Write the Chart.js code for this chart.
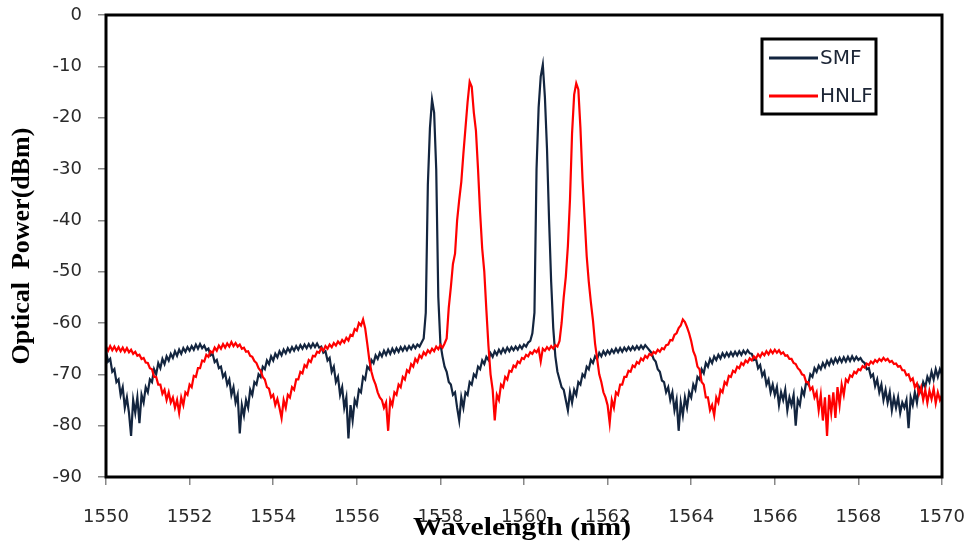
<!DOCTYPE html>
<html>
<head>
<meta charset="utf-8">
<script src="https://cdn.jsdelivr.net/npm/chart.js@4.4.1/dist/chart.umd.min.js"></script>
<style>
    body { margin: 0; background: #fff; }
    #spectrum { display: block; }
</style>
</head>
<body>
<canvas id="spectrum" width="969" height="543"></canvas>
<script>
// wavelength grid: 1550 to 1570 nm, 0.05 nm step (one row = 1 nm)
const wlStart = 1550;
const wlStep = 0.05;

// SMF output spectrum (dBm)
const smf = [
    -65.5, -67.5, -67.0, -69.5, -69.0, -71.5, -71.0, -74.0, -72.5, -76.5, -74.5, -77.5, -82.0, -75.0, -77.5, -74.5, -79.5, -74.0, -75.5, -72.5,
    -73.5, -71.0, -71.5, -69.0, -70.0, -67.8, -68.8, -67.0, -68.0, -66.5, -67.3, -66.0, -66.8, -65.5, -66.4, -65.2, -66.0, -64.9, -65.6, -64.7,
    -65.4, -64.5, -65.2, -64.2, -65.0, -64.1, -64.9, -64.4, -65.3, -65.0, -66.3, -66.0, -67.6, -67.2, -68.8, -68.5, -70.5, -69.8, -72.0, -71.0,
    -74.0, -72.5, -75.5, -74.0, -81.5, -76.0, -78.0, -75.0, -76.5, -73.0, -74.0, -71.5, -72.0, -70.0, -70.5, -68.5, -69.0, -67.3, -68.0, -66.5,
    -67.3, -66.0, -66.7, -65.5, -66.3, -65.2, -65.9, -64.9, -65.6, -64.7, -65.4, -64.5, -65.2, -64.3, -65.0, -64.2, -64.9, -64.1, -64.8, -64.0,
    -64.7, -64.0, -64.8, -64.6, -65.8, -65.5, -67.3, -66.8, -69.5, -68.5, -71.5, -70.5, -74.0, -72.5, -76.5, -74.5, -82.5, -76.0, -79.0, -75.0,
    -76.0, -73.0, -73.5, -70.5, -71.0, -68.5, -69.0, -67.2, -67.8, -66.3, -67.0, -65.8, -66.5, -65.4, -66.2, -65.2, -66.0, -65.0, -65.8, -64.9,
    -65.6, -64.7, -65.4, -64.6, -65.3, -64.5, -65.1, -64.3, -64.9, -64.2, -64.6, -63.8, -63.0, -58.0, -33.0, -22.0, -16.5, -19.0, -30.0, -55.0,
    -64.0, -66.5, -68.5, -69.5, -71.5, -72.0, -74.0, -73.5, -76.5, -79.0, -74.5, -76.5, -73.5, -74.0, -71.5, -72.0, -70.0, -70.5, -68.5, -69.0,
    -67.3, -68.0, -66.6, -67.2, -65.9, -66.6, -65.5, -66.2, -65.2, -65.9, -65.0, -65.7, -64.8, -65.5, -64.7, -65.3, -64.6, -65.2, -64.4, -65.0,
    -64.2, -64.6, -63.8, -63.5, -62.0, -58.0, -30.0, -18.0, -12.0, -9.7, -16.0, -26.0, -40.0, -52.0, -61.0, -66.5, -69.5, -71.0, -72.5, -73.0,
    -75.0, -77.0, -73.5, -75.5, -73.0, -74.0, -71.5, -72.0, -70.0, -70.5, -68.5, -69.0, -67.2, -67.8, -66.5, -67.0, -65.8, -66.5, -65.5, -66.2,
    -65.4, -66.0, -65.2, -65.8, -65.0, -65.7, -64.9, -65.6, -64.8, -65.4, -64.7, -65.3, -64.6, -65.2, -64.5, -65.1, -64.4, -65.0, -64.3, -64.8,
    -65.3, -65.8, -67.0, -67.5, -69.0, -69.5, -71.2, -71.5, -73.5, -72.5, -75.0, -73.5, -77.0, -75.0, -81.0, -75.5, -78.0, -74.5, -76.5, -73.5,
    -74.5, -72.0, -73.0, -70.5, -71.0, -69.0, -69.8, -67.8, -68.5, -67.0, -67.8, -66.5, -67.2, -66.2, -66.9, -65.9, -66.6, -65.8, -66.5, -65.7,
    -66.4, -65.6, -66.3, -65.5, -66.2, -65.4, -66.0, -65.3, -65.9, -66.0, -67.2, -67.0, -68.8, -68.2, -70.3, -69.5, -72.0, -71.0, -73.5, -72.0,
    -74.0, -72.5, -76.0, -73.5, -75.0, -73.0, -77.0, -74.5, -76.0, -74.0, -80.0, -75.0, -76.0, -73.0, -74.0, -71.5, -72.0, -70.0, -70.5, -68.8,
    -69.5, -68.3, -69.0, -67.8, -68.6, -67.4, -68.2, -67.1, -67.9, -66.9, -67.7, -66.8, -67.6, -66.7, -67.5, -66.6, -67.4, -66.5, -67.3, -66.6,
    -67.2, -66.8, -67.5, -67.8, -69.0, -68.8, -70.5, -70.0, -72.3, -71.0, -73.5, -72.0, -75.0, -73.0, -75.5, -73.5, -77.0, -74.5, -76.5, -74.5,
    -77.5, -75.5, -76.5, -75.0, -80.5, -74.5, -76.0, -73.5, -75.5, -72.5, -73.5, -71.5, -72.5, -70.5, -71.5, -69.5, -71.0, -69.0, -70.5, -69.0,
    -70.0
];

// HNLF output spectrum (dBm)
const hnlf = [
    -64.6, -65.4, -64.5, -65.3, -64.6, -65.4, -64.7, -65.5, -64.8, -65.6, -64.9, -65.7, -65.2, -66.0, -65.6, -66.4, -66.2, -67.0, -66.8, -67.7,
    -67.8, -68.8, -69.0, -70.5, -70.5, -72.0, -72.0, -73.8, -73.0, -75.0, -73.5, -75.5, -74.5, -76.5, -75.0, -77.5, -74.5, -76.0, -73.5, -74.0,
    -72.0, -72.5, -70.3, -70.5, -68.8, -68.8, -67.3, -67.5, -66.2, -66.6, -65.5, -65.8, -64.8, -65.4, -64.4, -65.0, -64.1, -64.8, -64.0, -64.6,
    -63.7, -64.5, -63.9, -64.6, -64.2, -65.0, -64.8, -65.6, -65.5, -66.4, -66.6, -67.4, -67.8, -68.8, -69.3, -70.5, -71.0, -72.5, -72.8, -74.5,
    -74.0, -76.0, -74.8, -76.5, -78.5, -75.0, -76.5, -74.0, -74.5, -72.5, -73.0, -71.0, -71.0, -69.5, -69.8, -68.2, -68.6, -67.2, -67.6, -66.4,
    -66.5, -65.6, -65.8, -64.9, -65.4, -64.5, -65.0, -64.2, -64.7, -63.9, -64.4, -63.6, -64.1, -63.3, -63.8, -62.9, -63.4, -62.3, -62.5, -61.2,
    -61.5, -60.0, -60.5, -59.3, -61.0, -64.0, -67.2, -69.5, -71.0, -72.0, -73.5, -74.5, -75.0, -76.5, -75.5, -81.0, -75.0, -76.0, -73.5, -74.0,
    -72.0, -72.5, -70.5, -71.0, -69.2, -69.6, -68.0, -68.5, -67.0, -67.6, -66.3, -66.8, -65.7, -66.2, -65.3, -65.8, -65.0, -65.5, -64.6, -65.1,
    -64.3, -64.8, -64.0, -63.0, -57.0, -53.0, -48.5, -46.5, -40.0, -36.0, -32.5, -27.0, -22.0, -17.0, -13.0, -14.0, -19.0, -22.5, -30.0, -38.5,
    -45.5, -50.0, -57.5, -64.5, -70.0, -73.0, -79.0, -74.0, -75.0, -72.0, -72.5, -70.5, -71.0, -69.3, -69.5, -68.3, -68.6, -67.5, -67.8, -66.8,
    -67.0, -66.2, -66.5, -65.7, -66.0, -65.3, -65.7, -65.0, -67.5, -65.0, -65.4, -64.7, -65.2, -64.5, -65.0, -64.3, -64.6, -63.5, -60.0, -55.0,
    -51.0, -45.0, -36.0, -23.0, -15.5, -13.3, -14.5, -22.0, -32.0, -39.5, -47.0, -52.0, -56.0, -59.5, -64.0, -67.0, -70.0, -71.5, -73.5, -74.5,
    -76.0, -79.5, -75.0, -76.5, -73.5, -74.0, -72.0, -72.0, -70.5, -70.5, -69.3, -69.5, -68.3, -68.6, -67.6, -67.9, -66.9, -67.3, -66.4, -66.8,
    -66.0, -66.3, -65.6, -65.9, -65.2, -65.6, -64.9, -65.1, -64.3, -64.2, -63.3, -63.4, -62.3, -62.0, -61.0, -60.5, -59.3, -59.8, -60.8, -62.0,
    -63.5, -65.5, -66.5, -68.5, -69.0, -71.5, -72.0, -74.5, -74.5, -77.0, -76.0, -78.0, -74.5, -75.5, -73.0, -73.5, -71.5, -72.0, -70.3, -70.5,
    -69.3, -69.6, -68.5, -68.8, -67.8, -68.2, -67.3, -67.7, -66.9, -67.3, -66.5, -66.9, -66.1, -66.6, -65.8, -66.3, -65.5, -66.1, -65.3, -65.9,
    -65.2, -65.8, -65.3, -66.0, -65.7, -66.4, -66.3, -67.0, -67.0, -67.8, -68.0, -68.8, -69.2, -70.0, -70.2, -71.5, -71.5, -73.0, -72.5, -74.5,
    -73.5, -77.0, -74.0, -79.0, -74.5, -82.0, -74.0, -77.5, -73.5, -78.5, -72.5, -76.0, -72.0, -74.0, -71.0, -71.5, -70.2, -70.5, -69.5, -69.8,
    -69.0, -69.2, -68.4, -68.7, -67.9, -68.2, -67.5, -67.9, -67.2, -67.6, -67.0, -67.4, -66.8, -67.3, -67.0, -67.6, -67.4, -68.0, -67.9, -68.5,
    -68.4, -69.2, -69.2, -70.2, -70.0, -71.2, -70.8, -72.5, -71.8, -73.8, -72.5, -75.0, -73.0, -75.5, -73.2, -74.8, -72.8, -75.6, -73.5, -75.0,
    -74.0
];

const seriesNames = ['SMF', 'HNLF'];
const seriesColors = ['#13253f', '#ff0000'];
const xTitle = 'Wavelength (nm)';
const yTitle = 'Optical  Power(dBm)';

const wavelengths = smf.map((_, i) => +(wlStart + i * wlStep).toFixed(2));
const toPoints = (vals) => vals.map((v, i) => ({ x: wavelengths[i], y: v }));

// thick black box round the plot area
const framePlugin = {
    id: 'frame',
    afterDatasetsDraw(chart) {
        const { ctx, chartArea: a } = chart;
        ctx.save();
        ctx.strokeStyle = '#000';
        ctx.lineWidth = 3;
        ctx.strokeRect(a.left, a.top, a.right - a.left, a.bottom - a.top);
        ctx.restore();
    }
};

// x title is wide and sits over the tick labels, so draw it by hand
const xTitlePlugin = {
    id: 'xTitle',
    afterDraw(chart) {
        const { ctx, chartArea: a } = chart;
        ctx.save();
        ctx.translate((a.left + a.right) / 2 - 2, 528);
        ctx.scale(1.14, 1);
        ctx.font = 'bold 26px "Liberation Serif", "Times New Roman", serif';
        ctx.fillStyle = '#000';
        ctx.textAlign = 'center';
        ctx.textBaseline = 'middle';
        ctx.fillText(xTitle, 0, 0);
        ctx.restore();
    }
};

// boxed legend in the top right of the plot
const boxLegend = {
    id: 'boxLegend',
    afterDraw(chart) {
        const ctx = chart.ctx;
        const x0 = 762, y0 = 39, w = 114, h = 75;
        ctx.save();
        ctx.fillStyle = '#fff';
        ctx.fillRect(x0, y0, w, h);
        ctx.strokeStyle = '#000';
        ctx.lineWidth = 3;
        ctx.strokeRect(x0, y0, w, h);
        ctx.font = '20px "DejaVu Sans"';
        ctx.textBaseline = 'middle';
        chart.data.datasets.forEach((ds, i) => {
            const y = y0 + 19 + i * 38;
            ctx.strokeStyle = ds.borderColor;
            ctx.lineWidth = 3;
            ctx.beginPath();
            ctx.moveTo(x0 + 7, y);
            ctx.lineTo(x0 + 56, y);
            ctx.stroke();
            ctx.fillStyle = '#1d2636';
            ctx.fillText(ds.label, x0 + 58, y + 1);
        });
        ctx.restore();
    }
};

const tickFont = { family: '"DejaVu Sans", Verdana, sans-serif', size: 18 };
const titleFont = { family: '"Liberation Serif", "Times New Roman", serif', size: 26, weight: 'bold' };

const ctx = document.getElementById('spectrum').getContext('2d');
const spectrumChart = new Chart(ctx, {
    type: 'line',
    data: {
        datasets: [{
            label: seriesNames[0],
            data: toPoints(smf),
            borderColor: seriesColors[0],
            borderWidth: 2.2,
            pointRadius: 0,
            tension: 0,
            order: 1
        }, {
            label: seriesNames[1],
            data: toPoints(hnlf),
            borderColor: seriesColors[1],
            borderWidth: 2.2,
            pointRadius: 0,
            tension: 0,
            order: 0
        }]
    },
    options: {
        responsive: false,
        animation: false,
        layout: {
            padding: { top: 15, right: 27, left: 0, bottom: 0 }
        },
        plugins: {
            legend: { display: false },
            tooltip: { enabled: false }
        },
        scales: {
            x: {
                type: 'linear',
                min: 1550,
                max: 1570,
                afterFit: (scale) => {
                    scale.height = 66;
                    scale.paddingLeft = 0;
                    scale.paddingRight = 0;
                },
                border: { display: false },
                grid: {
                    drawOnChartArea: false,
                    tickLength: 8,
                    color: '#888',
                    lineWidth: 1.5
                },
                ticks: {
                    stepSize: 2,
                    padding: 22,
                    color: '#2a2a2a',
                    font: tickFont,
                    callback: (v) => String(v)
                },
                title: { display: false }
            },
            y: {
                min: -90,
                max: 0,
                afterFit: (scale) => {
                    scale.width = 106;
                    scale.paddingTop = 0;
                    scale.paddingBottom = 0;
                },
                border: { display: false },
                grid: {
                    drawOnChartArea: false,
                    tickLength: 8,
                    color: '#888',
                    lineWidth: 1.5
                },
                ticks: {
                    stepSize: 10,
                    padding: 16,
                    color: '#2a2a2a',
                    font: tickFont
                },
                title: {
                    display: true,
                    text: yTitle,
                    color: '#000',
                    font: titleFont,
                    padding: { top: 7, bottom: 0 }
                }
            }
        }
    },
    plugins: [framePlugin, xTitlePlugin, boxLegend]
});
</script>
</body>
</html>
